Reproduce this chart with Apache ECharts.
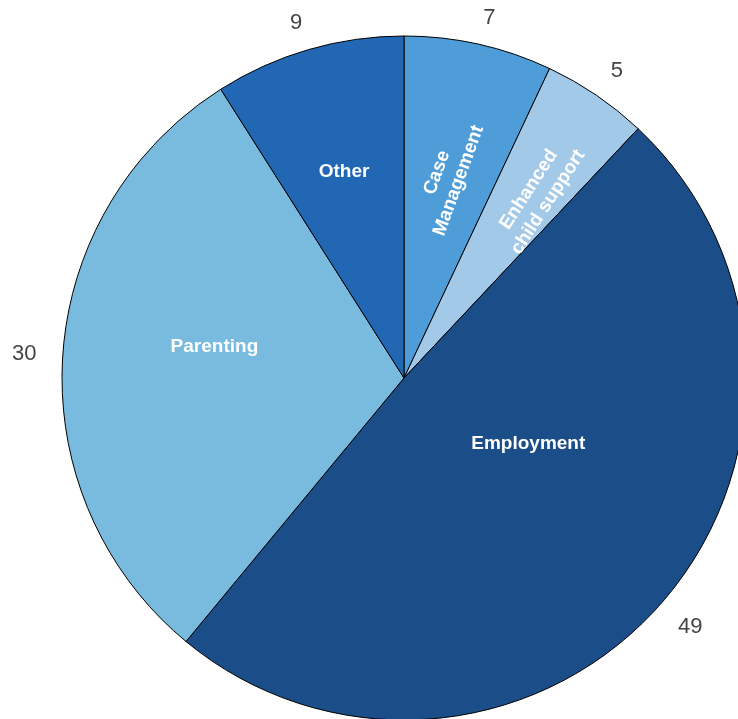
<!DOCTYPE html>
<html>
<head>
<meta charset="utf-8">
<style>
  html, body { margin: 0; padding: 0; background: #fff; }
  #chart { width: 738px; height: 719px; }
</style>
<script src="https://cdn.jsdelivr.net/npm/echarts@6/dist/echarts.min.js"></script>
</head>
<body>
<div id="chart"></div>
<script>
// Programme components, clockwise from 12 o'clock
const categories = ['Case Management', 'Enhanced child support', 'Employment', 'Parenting', 'Other'];
const values = [7, 5, 49, 30, 9];
const colors = ['#4f9dd8', '#a3c9e9', '#1b4e88', '#79bbdf', '#2167b4'];

// Labels that run along the slice instead of horizontally (degrees)
const labelRotation = { 'Case Management': 70, 'Enhanced child support': 57 };
// Small nudges for a few name labels
const labelNudge = {
  'Enhanced child support': [11, 9],
  'Case Management': [-9, 0],
  'Parenting': [25, -18],
  'Employment': [-37, -76]
};

const CENTER = [404, 378];
const R = 342;
const VALUE_GAP = 368;   // distance from the centre to the inner side of a value label
const FONT = '"Liberation Sans", Arial, Helvetica, sans-serif';

function wrapName(name) {
  if (!labelRotation[name]) return name;
  const i = name.indexOf(' ');
  return name.slice(0, i) + '\n' + name.slice(i + 1);
}

const pieData = categories.map((c, i) => ({
  name: c,
  value: values[i],
  itemStyle: { color: colors[i] }
}));

const nameData = categories.map((c, i) => ({
  name: c,
  value: values[i],
  label: { rotate: labelRotation[c] != null ? labelRotation[c] : 0 }
}));

const valueData = categories.map((c, i) => ({ name: c, value: values[i] }));

const common = {
  type: 'pie',
  center: CENTER,
  startAngle: 90,
  clockwise: true,
  animation: false,
  avoidLabelOverlap: false,
  labelLine: { show: false }
};

// Push each value label outward along its slice's mid-angle,
// leaning it slightly away from the vertical axis
function placeValueLabel(p) {
  const r = p.labelRect;
  const cx = r.x + r.width / 2, cy = r.y + r.height / 2;
  let ux = cx - CENTER[0], uy = cy - CENTER[1];
  const len = Math.hypot(ux, uy) || 1;
  ux /= len; uy /= len;
  const d = VALUE_GAP + Math.abs(ux) * r.width / 2;
  const lean = Math.sign(ux) * 5 * Math.abs(uy);
  return { x: CENTER[0] + ux * d + lean, y: CENTER[1] + uy * d, align: 'center', verticalAlign: 'middle' };
}

const chart = echarts.init(document.getElementById('chart'), null, { renderer: 'canvas' });
chart.setOption({
  backgroundColor: '#ffffff',
  series: [
    Object.assign({}, common, {
      name: 'slices',
      radius: [0, R],
      data: pieData,
      itemStyle: { borderColor: '#000', borderWidth: 1 },
      label: { show: false },
      emphasis: { disabled: true }
    }),
    Object.assign({}, common, {
      name: 'names',
      radius: [0, 424],
      silent: true,
      data: nameData,
      itemStyle: { color: 'rgba(0,0,0,0)', borderWidth: 0 },
      emphasis: { disabled: true },
      label: {
        show: true,
        position: 'inside',
        color: '#ffffff',
        fontFamily: FONT,
        fontWeight: 'bold',
        fontSize: 19,
        lineHeight: 23,
        align: 'center',
        formatter: p => wrapName(p.name)
      },
      labelLayout: function (p) {
        const n = labelNudge[categories[p.dataIndex]];
        return n ? { dx: n[0], dy: n[1] } : {};
      }
    }),
    Object.assign({}, common, {
      name: 'values',
      radius: [370, 384],
      silent: true,
      data: valueData,
      itemStyle: { color: 'rgba(0,0,0,0)', borderWidth: 0 },
      emphasis: { disabled: true },
      label: {
        show: true,
        position: 'inside',
        rotate: 0,
        color: '#444444',
        fontFamily: FONT,
        fontSize: 22,
        formatter: p => String(p.value)
      },
      labelLayout: placeValueLabel
    })
  ]
});
</script>
</body>
</html>
